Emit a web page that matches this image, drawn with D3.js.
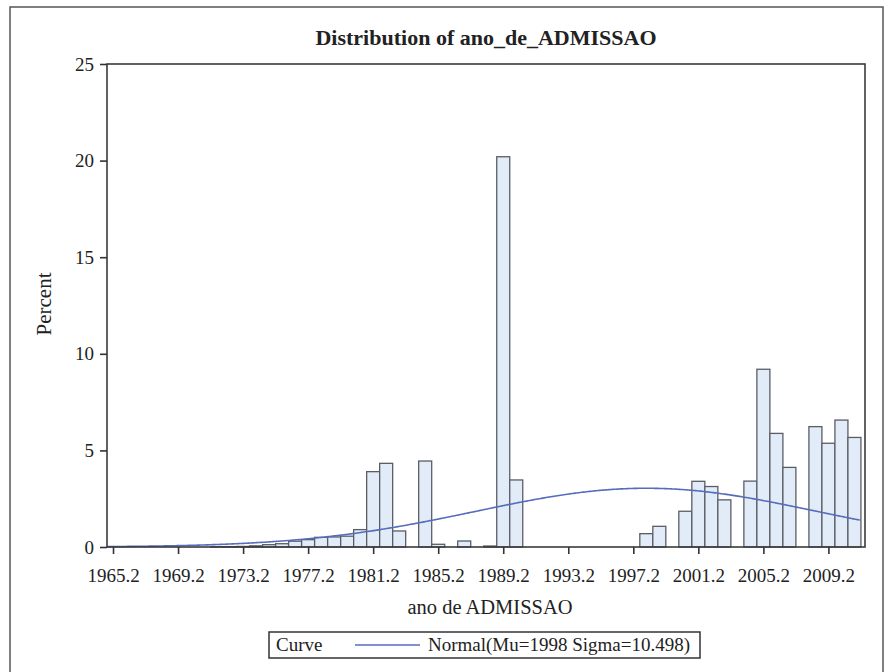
<!DOCTYPE html>
<html>
<head>
<meta charset="utf-8">
<script src="https://cdn.jsdelivr.net/npm/d3@7"></script>
<style>
  html, body { margin: 0; padding: 0; background: #fff; }
  svg { display: block; }
  text { font-family: "Liberation Serif", "Times New Roman", serif; fill: #222; }
</style>
</head>
<body>
<svg id="chart" width="885" height="672"></svg>
<script>
// ---- data ----
const binMidpoints = [
  1965.2, 1966.0, 1966.8, 1967.6, 1968.4, 1969.2, 1970.0, 1970.8, 1971.6, 1972.4,
  1973.2, 1974.0, 1974.8, 1975.6, 1976.4, 1977.2, 1978.0, 1978.8, 1979.6, 1980.4,
  1981.2, 1982.0, 1982.8, 1983.6, 1984.4, 1985.2, 1986.0, 1986.8, 1987.6, 1988.4,
  1989.2, 1990.0, 1990.8, 1991.6, 1992.4, 1993.2, 1994.0, 1994.8, 1995.6, 1996.4,
  1997.2, 1998.0, 1998.8, 1999.6, 2000.4, 2001.2, 2002.0, 2002.8, 2003.6, 2004.4,
  2005.2, 2006.0, 2006.8, 2007.6, 2008.4, 2009.2, 2010.0, 2010.8
];
const percentValues = [
  0, 0, 0, 0, 0, 0, 0, 0, 0.01, 0.02,
  0.03, 0.06, 0.12, 0.17, 0.30, 0.38, 0.50, 0.52, 0.56, 0.90,
  3.90, 4.33, 0.83, 0, 4.45, 0.14, 0, 0.31, 0, 0.05,
  20.2, 3.47, 0, 0, 0, 0, 0, 0, 0, 0,
  0, 0.69, 1.07, 0, 1.85, 3.40, 3.13, 2.44, 0, 3.41,
  9.20, 5.88, 4.12, 0, 6.23, 5.37, 6.57, 5.67
];
const binWidth = 0.8;
const xTickValues = [1965.2, 1969.2, 1973.2, 1977.2, 1981.2, 1985.2, 1989.2, 1993.2, 1997.2, 2001.2, 2005.2, 2009.2];
const yTickValues = [0, 5, 10, 15, 20, 25];
const normalMu = 1998;
const normalSigma = 10.498;
const titleText = "Distribution of ano_de_ADMISSAO";
const xLabel = "ano de ADMISSAO";
const yLabel = "Percent";
const legendTitle = "Curve";
const legendEntry = "Normal(Mu=1998 Sigma=10.498)";

// ---- layout ----
const svg = d3.select("#chart");
const plot = { left: 107, right: 865, top: 64, bottom: 547 };

svg.append("rect")
  .attr("x", 10).attr("y", 7).attr("width", 873).attr("height", 700)
  .attr("fill", "none").attr("stroke", "#555").attr("stroke-width", 1.5);

const x = d3.scaleLinear().domain([1964.83, 2011.45]).range([plot.left, plot.right]);
const y = d3.scaleLinear().domain([0, 25]).range([plot.bottom, plot.top]);

// bars
const bars = binMidpoints.map((m, i) => ({ m, v: percentValues[i] })).filter(d => d.v > 0);
svg.append("g").selectAll("rect")
  .data(bars).join("rect")
  .attr("x", d => x(d.m - binWidth / 2))
  .attr("width", d => x(d.m + binWidth / 2) - x(d.m - binWidth / 2))
  .attr("y", d => y(d.v))
  .attr("height", d => y(0) - y(d.v))
  .attr("fill", "#e1ecf8")
  .attr("stroke", "#5a5d66")
  .attr("stroke-width", 1.3);

// normal curve
const curveX = d3.range(1964.83, 2011.2, 0.1);
const scaleFactor = 100 * binWidth / (normalSigma * Math.sqrt(2 * Math.PI));
const curvePts = curveX.map(v => [v, scaleFactor * Math.exp(-0.5 * Math.pow((v - normalMu) / normalSigma, 2))]);
svg.append("path")
  .datum(curvePts)
  .attr("d", d3.line().x(d => x(d[0])).y(d => y(d[1])).curve(d3.curveBasis))
  .attr("fill", "none")
  .attr("stroke", "#566cbc")
  .attr("stroke-width", 1.6);

// plot frame
svg.append("rect")
  .attr("x", plot.left).attr("y", plot.top)
  .attr("width", plot.right - plot.left).attr("height", plot.bottom - plot.top)
  .attr("fill", "none").attr("stroke", "#3a3a3a").attr("stroke-width", 1.6);

// axes
const xAxis = d3.axisBottom(x).tickValues(xTickValues).tickFormat(d3.format(".1f")).tickSize(7).tickSizeOuter(0);
const gx = svg.append("g").attr("transform", `translate(0,${plot.bottom})`).call(xAxis);
gx.select(".domain").remove();
gx.selectAll("line").attr("stroke", "#333").attr("stroke-width", 1.6);
gx.selectAll("text").attr("font-size", 19).attr("fill", "#222")
  .attr("font-family", "Liberation Serif, Times New Roman, serif").attr("dy", "1.3em");

const yAxis = d3.axisLeft(y).tickValues(yTickValues).tickSize(7).tickSizeOuter(0);
const gy = svg.append("g").attr("transform", `translate(${plot.left},0)`).call(yAxis);
gy.select(".domain").remove();
gy.selectAll("line").attr("stroke", "#333").attr("stroke-width", 1.6);
gy.selectAll("text").attr("font-size", 19).attr("fill", "#222")
  .attr("font-family", "Liberation Serif, Times New Roman, serif").attr("x", -13);

// title & labels
svg.append("text").attr("x", 486).attr("y", 45).attr("text-anchor", "middle")
  .attr("font-size", 22).attr("font-weight", "bold").text(titleText);
svg.append("text").attr("x", 490).attr("y", 614).attr("text-anchor", "middle")
  .attr("font-size", 20.5).text(xLabel);
svg.append("text").attr("transform", "translate(51,304) rotate(-90)").attr("text-anchor", "middle")
  .attr("font-size", 21).text(yLabel);

// legend
const lg = svg.append("g");
lg.append("rect").attr("x", 269).attr("y", 632).attr("width", 431).attr("height", 26)
  .attr("fill", "#fff").attr("stroke", "#333").attr("stroke-width", 1.5);
lg.append("text").attr("x", 276).attr("y", 651).attr("font-size", 19).text(legendTitle);
lg.append("line").attr("x1", 355).attr("x2", 420).attr("y1", 645).attr("y2", 645)
  .attr("stroke", "#566cbc").attr("stroke-width", 1.6);
lg.append("text").attr("x", 428).attr("y", 651).attr("font-size", 19).text(legendEntry);
</script>
</body>
</html>
